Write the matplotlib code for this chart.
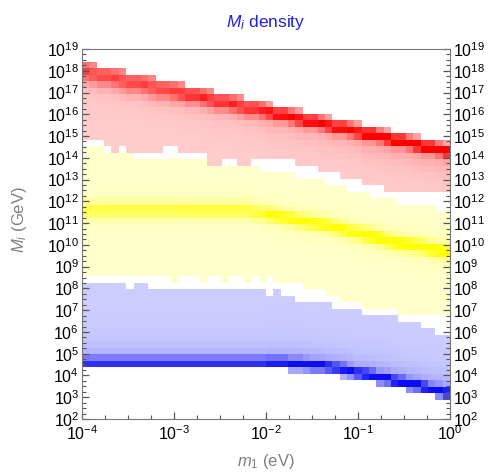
import numpy as np
import matplotlib.pyplot as plt
from matplotlib.ticker import FixedLocator, NullFormatter

plt.rcParams['font.family'] = ['Liberation Sans', 'DejaVu Sans']
plt.rcParams['mathtext.fontset'] = 'custom'
plt.rcParams['mathtext.rm'] = 'Liberation Sans'
plt.rcParams['mathtext.it'] = 'Liberation Sans:italic'

# histogram bins, in log10 units
m1_edges = np.linspace(-4, 0, 51)   # log10(m1 / eV)
M_edges = np.linspace(2, 19, 58)    # log10(M / GeV)

# per column of m1: top edge, ridge (densest cell) and bottom edge, log10(M/GeV)
red_top = [18.4, 18.3, 18.2, 18.2, 18.1, 18.0, 17.9, 17.9, 17.8, 17.7,
           17.6, 17.6, 17.5, 17.4, 17.3, 17.3, 17.2, 17.1, 17.0, 17.0,
           16.9, 16.8, 16.7, 16.7, 16.6, 16.5, 16.4, 16.4, 16.3, 16.2,
           16.1, 16.1, 16.0, 15.9, 15.8, 15.8, 15.7, 15.6, 15.5, 15.5,
           15.4, 15.3, 15.2, 15.2, 15.1, 15.0, 14.9, 14.9, 14.8, 14.7]
red_ridge = [18.0, 17.9, 17.8, 17.8, 17.7, 17.6, 17.5, 17.5, 17.4, 17.3,
             17.2, 17.2, 17.1, 17.0, 16.9, 16.9, 16.8, 16.7, 16.6, 16.6,
             16.5, 16.4, 16.3, 16.3, 16.2, 16.1, 16.0, 16.0, 15.9, 15.8,
             15.7, 15.7, 15.6, 15.5, 15.4, 15.4, 15.3, 15.2, 15.1, 15.1,
             15.0, 14.9, 14.8, 14.8, 14.7, 14.6, 14.5, 14.5, 14.4, 14.3]
red_bottom = [14.9, 14.7, 14.7, 14.5, 14.2, 14.4, 14.3, 14.2, 14.2, 14.2,
              14.1, 14.4, 14.4, 14.1, 14.1, 14.1, 14.1, 13.7, 13.7, 13.8,
              13.8, 13.7, 13.7, 13.8, 13.9, 13.9, 13.9, 13.9, 13.8, 13.6,
              13.5, 13.6, 13.4, 13.3, 13.3, 13.1, 13.0, 13.0, 12.8, 12.6,
              12.6, 12.5, 12.5, 12.4, 12.4, 12.4, 12.4, 12.4, 12.4, 12.4]

yel_top = [14.6, 14.4, 14.4, 14.3, 14.1, 14.2, 14.2, 14.0, 14.0, 14.0,
           13.8, 14.0, 14.0, 13.8, 13.8, 13.8, 13.8, 13.5, 13.5, 13.5,
           13.5, 13.5, 13.5, 13.5, 13.4, 13.4, 13.4, 13.4, 13.3, 13.1,
           13.1, 13.0, 12.9, 12.8, 12.8, 12.6, 12.5, 12.5, 12.3, 12.2,
           12.2, 12.1, 12.0, 11.9, 11.9, 11.8, 11.7, 11.7, 11.5, 11.5]
yel_ridge = [11.6, 11.6, 11.6, 11.6, 11.6, 11.6, 11.6, 11.6, 11.6, 11.6,
             11.6, 11.6, 11.6, 11.6, 11.6, 11.6, 11.6, 11.6, 11.6, 11.6,
             11.6, 11.6, 11.6, 11.5, 11.45, 11.4, 11.3, 11.25, 11.2, 11.1,
             11.05, 11.0, 10.95, 10.9, 10.8, 10.7, 10.6, 10.55, 10.45, 10.4,
             10.3, 10.2, 10.1, 10.05, 10.0, 9.95, 9.9, 9.8, 9.75, 9.7]
yel_bottom = [8.7, 8.5, 8.6, 8.5, 8.6, 8.7, 8.5, 8.6, 8.5, 8.6,
              8.5, 8.6, 8.4, 8.5, 8.6, 8.5, 8.4, 8.6, 8.5, 8.4,
              8.5, 8.6, 8.4, 8.5, 8.4, 8.5, 8.4, 8.3, 8.3, 8.2,
              8.1, 8.0, 7.9, 7.8, 7.6, 7.5, 7.4, 7.3, 7.1, 7.1,
              7.0, 7.0, 7.0, 6.9, 6.9, 6.8, 6.8, 6.7, 6.7, 6.7]

blu_top = [8.2, 8.2, 8.2, 8.2, 8.2, 8.2, 8.1, 8.2, 8.2, 8.1,
           8.1, 8.0, 8.1, 8.1, 8.0, 8.1, 8.0, 8.0, 8.1, 7.9,
           8.0, 8.0, 7.9, 7.9, 7.9, 7.8, 7.9, 7.8, 7.7, 7.5,
           7.5, 7.4, 7.4, 7.3, 7.2, 7.1, 7.1, 7.0, 6.9, 6.9,
           6.9, 6.8, 6.8, 6.5, 6.5, 6.4, 6.2, 6.2, 6.0, 6.0]
blu_ridge = [4.6, 4.6, 4.6, 4.6, 4.6, 4.6, 4.6, 4.6, 4.6, 4.6,
             4.6, 4.6, 4.6, 4.6, 4.6, 4.6, 4.6, 4.6, 4.6, 4.6,
             4.6, 4.6, 4.6, 4.6, 4.6, 4.6, 4.6, 4.6, 4.55, 4.55,
             4.5, 4.45, 4.45, 4.4, 4.35, 4.3, 4.2, 4.1, 4.05, 4.0,
             3.9, 3.85, 3.75, 3.7, 3.6, 3.55, 3.45, 3.35, 3.3, 3.2]
blu_bottom = [4.25, 4.25, 4.25, 4.25, 4.25, 4.25, 4.25, 4.25, 4.25, 4.25,
              4.25, 4.25, 4.25, 4.25, 4.25, 4.25, 4.25, 4.25, 4.25, 4.25,
              4.25, 4.25, 4.25, 4.25, 4.25, 4.25, 4.25, 4.25, 4.2, 4.2,
              4.1, 4.0, 4.0, 4.0, 3.95, 3.9, 3.85, 3.8, 3.75, 3.7,
              3.6, 3.55, 3.5, 3.35, 3.3, 3.25, 3.15, 3.1, 3.0, 2.95]

# darkness and width of the ridge per decade of m1
red_peak = [0.5, 0.6, 0.8, 1.0]
red_core = [0.35, 0.28, 0.2, 0.17]
yel_peak = [0.55, 0.6, 0.8, 0.9]
yel_core = [0.25, 0.24, 0.22, 0.22]
blu_peak = [0.75, 0.75, 0.85, 0.95]
blu_core = [0.15, 0.15, 0.15, 0.15]

ncol = len(m1_edges) - 1
yc = 0.5 * (M_edges[1:] + M_edges[:-1])


def band(top, ridge, bottom, peak, core, tail_up, tail_dn, tail_len):
    # sharp core at the ridge plus a softer tail on one or both sides
    v = np.full((len(yc), ncol), np.nan)
    for j in range(ncol):
        dec = j * 4 // ncol
        inside = (yc >= bottom[j]) & (yc <= top[j])
        d = yc[inside] - ridge[j]
        tail = np.where(d > 0, tail_up, tail_dn) * np.exp(-np.abs(d) / tail_len)
        val = np.exp(-0.5 * (d / core[dec]) ** 2) + tail
        v[inside, j] = np.clip(peak[dec] * val, 0, 1)
    return v


layers = [
    (band(red_top, red_ridge, red_bottom, red_peak, red_core, 0.2, 0.45, 0.6), (1, 0.80, 0.80), (1, 0, 0)),
    (band(yel_top, yel_ridge, yel_bottom, yel_peak, yel_core, 0.3, 0.3, 0.45), (1, 1, 0.80), (1, 1, 0)),
    (band(blu_top, blu_ridge, blu_bottom, blu_peak, blu_core, 0.4, 0.2, 0.55), (0.80, 0.80, 1), (0.05, 0.05, 0.95)),
]

rgba = np.zeros((len(yc), ncol, 4))
for v, light, dark in layers:
    ok = ~np.isnan(v)
    light = np.array(light)
    dark = np.array(dark)
    rgba[ok, :3] = light + v[ok][:, None] * (dark - light)
    rgba[ok, 3] = 1.0

fig = plt.figure(figsize=(4.88, 4.74), dpi=100)
ax = fig.add_axes([82 / 488, 55 / 474, 368 / 488, 370 / 474])
ax.pcolormesh(10.0 ** m1_edges, 10.0 ** M_edges, rgba, shading='flat')
ax.set_xscale('log')
ax.set_yscale('log')
ax.set_xlim(1e-4, 1)
ax.set_ylim(1e2, 1e19)

ax.xaxis.set_major_locator(FixedLocator([10.0 ** k for k in range(-4, 1)]))
ax.xaxis.set_minor_locator(FixedLocator([10.0 ** (k + q / 4) for k in range(-4, 0) for q in (1, 2, 3)]))
ax.yaxis.set_major_locator(FixedLocator([10.0 ** k for k in range(2, 20)]))
ax.yaxis.set_minor_locator(FixedLocator([10.0 ** (k + q / 4) for k in range(2, 19) for q in (1, 2, 3)]))
ax.xaxis.set_minor_formatter(NullFormatter())
ax.yaxis.set_minor_formatter(NullFormatter())

for s in ax.spines.values():
    s.set_color('#777777')
ax.tick_params(which='both', direction='in', color='#555555', labelsize=11.5, labelcolor='black')
ax.tick_params(which='major', length=5, width=0.9)
ax.tick_params(which='minor', length=3, width=0.8)
ax.tick_params(axis='y', which='both', left=True, right=True, labelleft=True, labelright=True, pad=2)
ax.tick_params(axis='x', which='both', top=False, pad=4)

ax.set_title('$M_i$ density', color='#2020e0', fontsize=12.5, pad=16)
ax.set_xlabel('$m_1$ (eV)', color='#808080', fontsize=12)
ax.set_ylabel('$M_i$ (GeV)', color='#808080', fontsize=12)
ax.xaxis.set_label_coords(0.5, -0.09)
ax.yaxis.set_label_coords(-0.145, 0.54)

plt.savefig('out.png', dpi=100)
